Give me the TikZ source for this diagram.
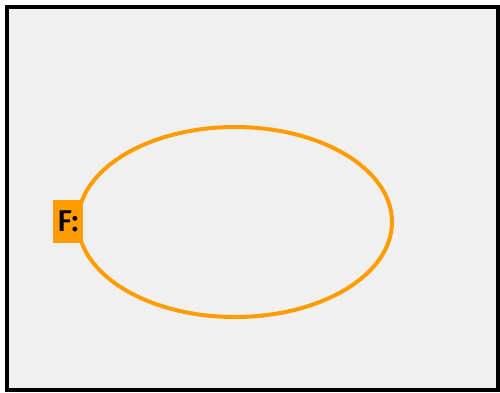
\documentclass[tikz,border=0pt]{standalone}
\usepackage{fontspec}
\setsansfont{Fira Sans}[FontFace={sb}{n}{*-Medium}]
\usetikzlibrary{shapes.geometric}
\definecolor{setorange}{RGB}{255,156,0}
\definecolor{panelgray}{RGB}{240,240,240}

\begin{document}
\begin{tikzpicture}[x=1pt, y=-1pt]
   \tikzstyle{frame}=[draw=black, line width=4pt, fill=panelgray]
   \tikzstyle{set}=[draw=setorange, ellipse, line width=4pt, inner sep=0pt]
   \tikzstyle{setlabel}=[fill=setorange, inner sep=0pt, font=\sffamily\fontseries{sb}\selectfont\fontsize{30}{30}\selectfont]

\useasboundingbox (0,0) rectangle (500,392);
\draw[frame] (6.5,6.5) rectangle (497.5,389.5);
\node[set, minimum width=314pt, minimum height=190pt] (F) at (235,222) {};
\node[setlabel, minimum width=30pt, minimum height=43pt] (Flabel) at (68,221.5) {F:};

\end{tikzpicture}
\end{document}
